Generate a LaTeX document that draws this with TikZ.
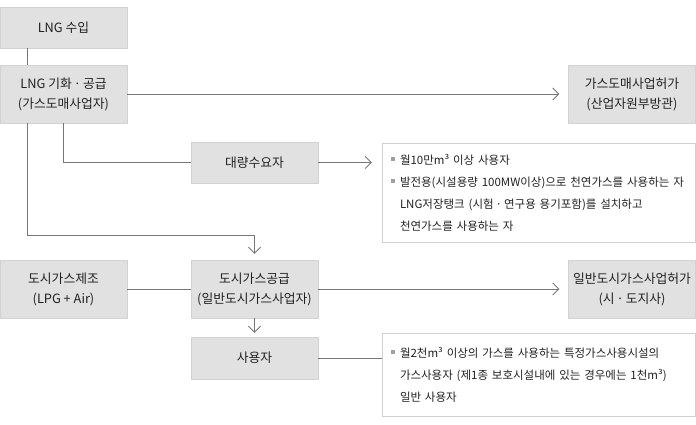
\documentclass[tikz,border=0pt]{standalone}
\usepackage{xcolor}
\usepackage{fontspec}
\setmainfont{Noto Sans CJK KR}
\usetikzlibrary{arrows.meta, calc}

\definecolor{boxfill}{HTML}{E1E1E1}
\definecolor{boxline}{HTML}{D2D2D2}
\definecolor{noteline}{HTML}{D0D0D0}
\definecolor{wire}{HTML}{777777}
\definecolor{ink}{HTML}{222222}
\definecolor{dotgray}{HTML}{A0A0A0}

\newcommand{\itm}{\makebox[9pt][l]{\textcolor{dotgray}{\rule[0.28em]{3.5pt}{3.5pt}}}}
\newcommand{\cnt}{\makebox[9pt]{}}
\newcommand{\mdot}{\hspace{2pt}·\hspace{2pt}}

\begin{document}
\begin{tikzpicture}[x=1pt, y=-1pt, >={Straight Barb[length=6pt, width=12pt]},
  every node/.style={text=ink},
  box/.style={draw=boxline, fill=boxfill, minimum width=127pt, align=center, inner sep=0pt, font=\fontsize{12.8}{20}\selectfont},
  note/.style={draw=noteline, fill=white, minimum width=313pt, text width=295pt, inner xsep=9pt, inner ysep=0pt, align=left, font=\fontsize{11.5}{22}\selectfont},
  wireline/.style={draw=wire, line width=0.8pt}]
  \useasboundingbox (0,0) rectangle (696,424);

  \node[box, minimum height=41pt] (lngin) at (63.5,27.5) {LNG 수입};
  \node[box, minimum height=58pt] (lngsupply) at (63.5,94) {LNG 기화\mdot 공급\\(가스도매사업자)};
  \node[box, minimum height=58pt] (wholesale) at (632,94) {가스도매사업허가\\(산업자원부방관)};
  \node[box, minimum height=41pt] (bulkuser) at (254.5,162.5) {대량수요자};
  \node[note, minimum height=99pt] (bulknote) at (538.5,192.5) {\itm 월10만m³ 이상 사용자\\
    \itm 발전용(시설용량 100MW이상)으로 천연가스를 사용하는 자\\
    \cnt LNG저장탱크 (시험\mdot 연구용 용기포함)를 설치하고\\
    \cnt 천연가스를 사용하는 자};
  \node[box, minimum height=58pt] (citymake) at (63.5,289) {도시가스제조\\(LPG + Air)};
  \node[box, minimum height=58pt] (citysupply) at (254.5,289) {도시가스공급\\(일반도시가스사업자)};
  \node[box, minimum height=58pt] (citylicense) at (632,289) {일반도시가스사업허가\\(시\mdot 도지사)};
  \node[box, minimum height=42pt] (enduser) at (254.5,358) {사용자};
  \node[note, minimum height=83pt] (usernote) at (538.5,374.5) {\itm 월2천m³ 이상의 가스를 사용하는 특정가스사용시설의\\
    \cnt 가스사용자 (제1종 보호시설내에 있는 경우에는 1천m³)\\
    \cnt 일반 사용자};

  \coordinate (trunk) at (27,0);
  \coordinate (branch) at (63,0);
  \coordinate (joint) at ($(citysupply.north)+(0,-24)$);

  \draw[wireline] (lngin.south -| trunk) -- (lngsupply.north -| trunk);
  \draw[wireline, ->, shorten >=9pt] (lngsupply.east) -- (wholesale.west);
  \draw[wireline] (lngsupply.south -| branch) |- (bulkuser.west);
  \draw[wireline, ->, shorten >=10pt] (bulkuser.east) -- (bulkuser.east -| bulknote.west);
  \draw[wireline, ->, shorten >=6pt] (lngsupply.south -| trunk) |- (joint) -- (citysupply.north);
  \draw[wireline] (citymake.east) -- (citysupply.west);
  \draw[wireline, ->, shorten >=9pt] (citysupply.east) -- (citylicense.west);
  \draw[wireline, ->, shorten >=4pt] (citysupply.south) -- (enduser.north);
  \draw[wireline] (enduser.east) -- (enduser.east -| usernote.west);
\end{tikzpicture}
\end{document}
